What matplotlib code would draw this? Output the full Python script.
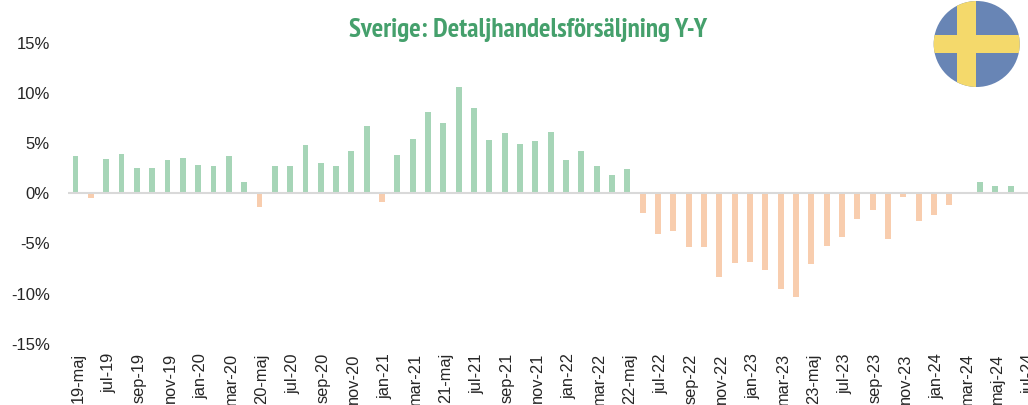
import matplotlib
matplotlib.use("Agg")
import matplotlib.pyplot as plt
from matplotlib.patches import Circle, Rectangle
from matplotlib.transforms import ScaledTranslation

plt.rcParams['font.family'] = ['Liberation Sans', 'DejaVu Sans']

W, H = 1028, 406

TITLE = "Sverige: Detaljhandelsförsäljning Y-Y"

# every second month gets a label
labels = ["19-maj", "jul-19", "sep-19", "nov-19", "jan-20", "mar-20",
          "20-maj", "jul-20", "sep-20", "nov-20", "jan-21", "mar-21",
          "21-maj", "jul-21", "sep-21", "nov-21", "jan-22", "mar-22",
          "22-maj", "jul-22", "sep-22", "nov-22", "jan-23", "mar-23",
          "23-maj", "jul-23", "sep-23", "nov-23", "jan-24", "mar-24",
          "maj-24", "jul-24"]

# maj-19 .. jul-24, percent y/y
values = [3.7, -0.5, 3.4, 3.9, 2.5, 2.5, 3.3, 3.5, 2.8, 2.7, 3.7, 1.1,
          -1.4, 2.7, 2.7, 4.8, 3.0, 2.7, 4.2, 6.7, -0.9, 3.8, 5.4, 8.1,
          7.0, 10.6, 8.5, 5.3, 6.0, 4.9, 5.2, 6.1, 3.3, 4.2, 2.7, 1.8,
          2.4, -2.0, -4.1, -3.8, -5.4, -5.4, -8.4, -7.0, -6.9, -7.7, -9.6, -10.4,
          -7.1, -5.3, -4.4, -2.6, -1.7, -4.6, -0.4, -2.8, -2.2, -1.2, 0.1, 1.1,
          0.7, 0.7, 0.1]

yticks = [-15, -10, -5, 0, 5, 10, 15]

GREEN = '#a6d5b7'
ORANGE = '#f8cdae'
TITLE_COLOR = '#45a06c'
TEXT = '#262626'
BLUE = '#6885b5'
YELLOW = '#f4d96b'

fig = plt.figure(figsize=(W / 100, H / 100), dpi=100)

# axes run a little past the right edge, the last label is cut off in the original
left, right, top, bottom = 67.8, 1033.6, 43.5, 343.5
ax = fig.add_axes([left / W, 1 - bottom / H, (right - left) / W, (bottom - top) / H])

x = list(range(len(values)))
colors = [GREEN if v >= 0 else ORANGE for v in values]
ax.bar(x, values, width=0.38, color=colors, zorder=2)
ax.axhline(0, color='#d9d9d9', lw=1.5, zorder=3)

ax.set_xlim(-0.5, len(values) - 0.5)
ax.set_ylim(-15, 15)
ax.set_yticks(yticks)
ax.set_yticklabels([f"{t}%" for t in yticks], fontsize=12, color=TEXT)
ax.set_xticks(x[::2])
ax.set_xticklabels(labels, rotation=90, ha='center', va='top', fontsize=11.8, color=TEXT)
ax.tick_params(axis='y', length=0, pad=13)
ax.tick_params(axis='x', length=0, pad=7)
# labels sit a bit right of their bars in the original
shift = ScaledTranslation(2.5 / 100, 0, fig.dpi_scale_trans)
for t in ax.get_xticklabels():
    t.set_transform(t.get_transform() + shift)
for s in ax.spines.values():
    s.set_visible(False)
ax.patch.set_alpha(0)

# pixel overlay for title and flag
ov = fig.add_axes([0, 0, 1, 1], zorder=5)
ov.set_xlim(0, W)
ov.set_ylim(H, 0)
ov.axis('off')
ov.text(528, 30, TITLE, ha='center', va='center', fontsize=19.5,
        fontweight='bold', color=TITLE_COLOR,
        family=['PT Sans Narrow', 'Liberation Sans'])

disc = Circle((976.7, 45), 43, facecolor=BLUE, edgecolor='none')
ov.add_patch(disc)
for r in (Rectangle((957.3, 0), 19, 90, facecolor=YELLOW, edgecolor='none'),
          Rectangle((930, 35.7), 95, 18.6, facecolor=YELLOW, edgecolor='none')):
    ov.add_patch(r)
    r.set_clip_path(disc)

fig.savefig("out.png", dpi=100)
